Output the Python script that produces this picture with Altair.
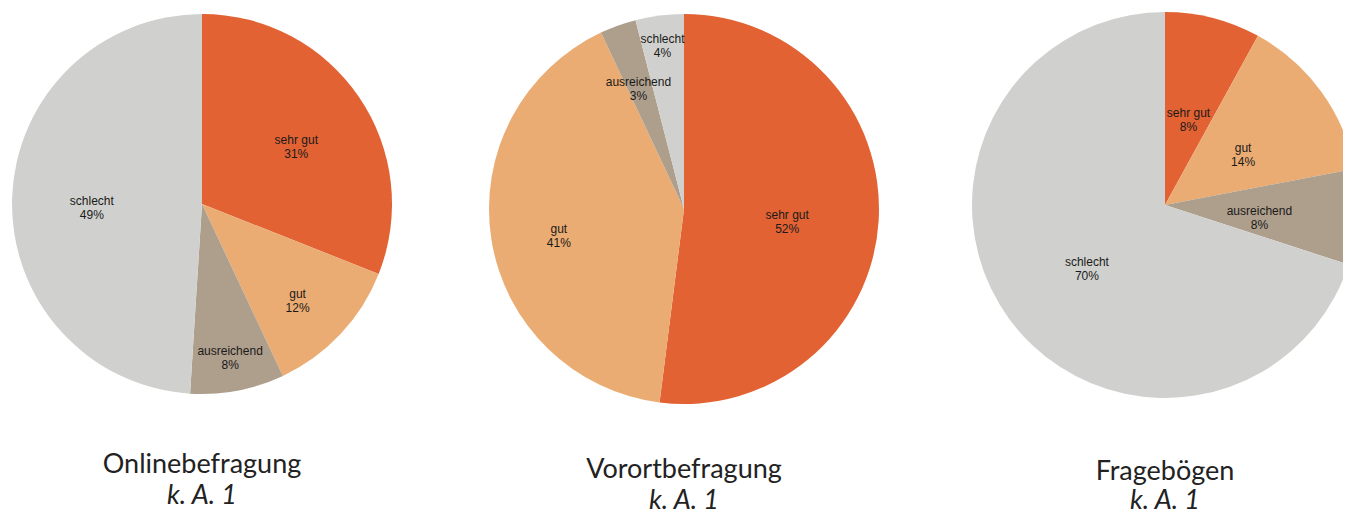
import altair as alt
import pandas as pd

# ---- data ----
categories = ["sehr gut", "gut", "ausreichend", "schlecht"]
online_values = [31, 12, 8, 49]
vorort_values = [52, 41, 3, 4]
frageboegen_values = [8, 14, 8, 70]
panel_titles = ["Onlinebefragung", "Vorortbefragung", "Fragebögen"]
panel_notes = ["k. A. 1", "k. A. 1", "k. A. 1"]

colors = ["#E26233", "#EAAC73", "#AE9E8C", "#D0D1CE"]

# ---- layout (pixels within the plot area) ----
pies = [
    dict(values=online_values, cx=194, cy=196, r=190, lab=[0.60, 0.69, 0.79, 0.58], ty=465, ny=496),
    dict(values=vorort_values, cx=676, cy=201, r=195, lab=[0.53, 0.65, 0.69, 0.88], ty=470, ny=501),
    dict(values=frageboegen_values, cx=1157, cy=197, r=193, lab=[0.49, 0.50, 0.49, 0.50], ty=472, ny=501),
]

layers = []
for i, p in enumerate(pies):
    total = sum(p["values"])
    df = pd.DataFrame({
        "cat": categories,
        "idx": list(range(len(categories))),
        "value": p["values"],
        "label": [f"{c}\n{v}%" for c, v in zip(categories, p["values"])],
        "lr": [f * p["r"] for f in p["lab"]],
    })
    theta_scale = alt.Scale(domain=[0, total])
    base = alt.Chart(df).transform_window(
        cum="sum(value)", sort=[alt.SortField("idx")], frame=[None, 0]
    ).transform_calculate(
        start="datum.cum - datum.value", mid="datum.cum - datum.value / 2"
    )
    arc = base.mark_arc(outerRadius=p["r"], strokeWidth=0).encode(
        theta=alt.Theta("start:Q", scale=theta_scale),
        theta2="cum:Q",
        x=alt.value(p["cx"]),
        y=alt.value(p["cy"]),
        color=alt.Color("cat:N", scale=alt.Scale(domain=categories, range=colors), legend=None),
    )
    txt = base.mark_text(
        font="Liberation Sans", fontSize=12, lineBreak="\n", lineHeight=14,
        color="#1a1a1a", align="center", baseline="middle",
    ).encode(
        theta=alt.Theta("mid:Q", scale=theta_scale),
        x=alt.value(p["cx"]),
        y=alt.value(p["cy"]),
        radius=alt.Radius("lr:Q", scale=None),
        text="label:N",
    )
    tdf = pd.DataFrame({"t": [panel_titles[i]], "n": [panel_notes[i]]})
    title = alt.Chart(tdf).mark_text(
        font="Lato", fontSize=27, color="#222222", align="center", baseline="alphabetic",
    ).encode(x=alt.value(p["cx"]), y=alt.value(p["ty"]), text="t:N")
    note = alt.Chart(tdf).mark_text(
        font="Lato", fontSize=27, fontStyle="italic", color="#222222", align="center", baseline="alphabetic",
    ).encode(x=alt.value(p["cx"]), y=alt.value(p["ny"]), text="n:N")
    layers += [arc, txt, title, note]

chart = alt.layer(*layers).properties(
    width=1335, height=505, autosize="none", padding=0
).configure_view(stroke=None)

chart.save("out.html", embed_options={"renderer": "svg", "actions": False})
